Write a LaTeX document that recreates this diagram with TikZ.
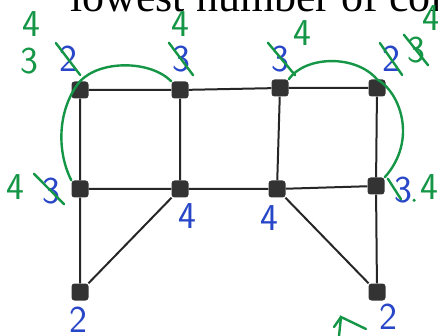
\documentclass[tikz,border=0pt]{standalone}
\usepackage{fontspec}
\usepackage{xcolor}
\newfontfamily\printfont{Liberation Serif}
\definecolor{penblue}{RGB}{40,70,200}
\definecolor{pengreen}{RGB}{20,150,70}
\tikzset{
  vert/.style={fill=black!80,rounded corners=3pt,minimum size=17pt,inner sep=0pt},
  bluenum/.style={text=penblue,font=\sffamily\fontsize{38}{38}\selectfont,inner sep=0pt},
  greennum/.style={text=pengreen,font=\sffamily\fontsize{38}{38}\selectfont,inner sep=0pt},
  greenpen/.style={draw=pengreen,line width=2.4pt,line cap=round},
  edge/.style={draw=black!85,line width=2pt}
}

\begin{document}
\begin{tikzpicture}[x=1pt,y=-1pt]
        \clip (0,0) rectangle (438,336);
        \node[anchor=base west,font=\printfont\fontsize{44}{44}\selectfont,inner sep=0pt] (title) at (70,12) {lowest number of colours};
        % the graph
        \node[vert] (a1) at (80,90) {};
        \node[vert] (a2) at (180,90) {};
        \node[vert] (a3) at (280,88) {};
        \node[vert] (a4) at (377,88) {};
        \node[vert] (b1) at (80,189) {};
        \node[vert] (b2) at (180,189) {};
        \node[vert] (b3) at (277,189) {};
        \node[vert] (b4) at (376,186) {};
        \node[vert] (c1) at (80,292) {};
        \node[vert] (c2) at (377,292) {};
        \draw[edge] (a1) -- (a2) -- (a3) -- (a4);
        \draw[edge] (b1) -- (b2) -- (b3) -- (b4);
        \draw[edge] (a1) -- (b1) -- (c1) -- (b2) -- (a2);
        \draw[edge] (a3) -- (b3) -- (c2) -- (b4) -- (a4);
        % first colours
        \node[bluenum] (n1) at (68,59) {2};
        \node[bluenum] (n2) at (181,59) {3};
        \node[bluenum] (n3) at (280,59) {3};
        \node[bluenum] (n4) at (391,59) {2};
        \node[bluenum] (n5) at (51,191) {3};
        \node[bluenum] (n6) at (187,216) {4};
        \node[bluenum] (n7) at (269,218) {4};
        \node[bluenum] (n8) at (403,190) {3};
        \node[bluenum] (n9) at (78,320) {2};
        \node[bluenum] (n10) at (388,317) {2};
        % corrections
        \node[greennum] (g1) at (29,61) {3};
        \node[greennum] (g2) at (31,24) {4};
        \node[greennum] (g3) at (180,24) {4};
        \node[greennum] (g4) at (302,33) {4};
        \node[greennum] (g5) at (416,50) {3};
        \node[greennum] (g6) at (431,18) {4};
        \node[greennum] (g7) at (15,187) {4};
        \node[greennum] (g8) at (429,187) {4};
        \draw[greenpen] ([shift={(-3,-3)}]n1.north west) -- ([shift={(3,3)}]n1.south east);
        \draw[greenpen] ([shift={(-3,-3)}]n2.north west) -- ([shift={(3,3)}]n2.south east);
        \draw[greenpen] ([shift={(-3,-3)}]n3.north west) -- ([shift={(6,3)}]n3.south east);
        \draw[greenpen] ([shift={(-2,-3)}]n4.north west) -- ([shift={(2,3)}]n4.south east);
        \draw[greenpen] ([shift={(-3,-2)}]g5.north west) -- ([shift={(3,2)}]g5.south east);
        \draw[greenpen] ([shift={(-8,-4)}]n5.north west) -- ([shift={(4,0)}]n5.south east);
        \draw[greenpen] ([shift={(-6,2)}]n8.north west) -- ([shift={(-2,-4)}]n8.south);
        \fill[pengreen] ([shift={(2,-3)}]n8.south east) circle (1.8pt);
        % loops
        \draw[greenpen] (b1.north west) .. controls (56,150) and (58,108) .. (a1.north)
          .. controls (100,60) and (150,60) .. (a2.north west);
        \draw[greenpen] (a3.north east) .. controls (305,56) and (355,54) .. (a4.north)
          .. controls (400,92) and (418,140) .. (b4.north east);
        % arrow mark
        \coordinate (tip) at (341,317);
        \draw[greenpen] (339,336) -- (tip) -- (366,329);
        \draw[greenpen] (tip) -- (334,327);
\end{tikzpicture}
\end{document}
